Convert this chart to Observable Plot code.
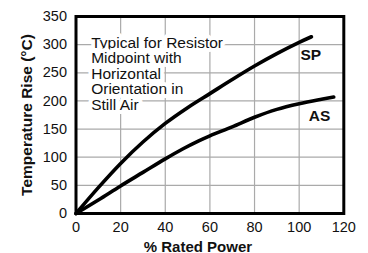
<!DOCTYPE html>
<html>
<head>
<meta charset="utf-8">
<script src="https://cdn.jsdelivr.net/npm/d3@7"></script>
<script src="https://cdn.jsdelivr.net/npm/@observablehq/plot@0.6"></script>
<style>
  html, body { margin: 0; padding: 0; background: #fff; }
  #chart svg { display: block; }
</style>
</head>
<body>
<div id="chart"></div>
<script>
// Data
const spPower = [0, 10, 20, 30, 40, 50, 60, 70, 80, 90, 100, 105.5];
const spRise  = [0, 46, 89, 127, 160, 188, 213, 238, 262, 284, 304, 314];
const asPower = [0, 10, 20, 30, 40, 48, 55, 60, 70, 80, 90, 100, 110, 115.5];
const asRise  = [0, 24, 49, 73, 97, 115, 129, 138, 154, 171, 185, 195, 203, 207];
const seriesNames = ["SP", "AS"];
const xTicks = [0, 20, 40, 60, 80, 100, 120];
const yTicks = [0, 50, 100, 150, 200, 250, 300, 350];
const xLabel = "% Rated Power";
const yLabel = "Temperature Rise (°C)";
const note = "Typical for Resistor\nMidpoint with\nHorizontal\nOrientation in\nStill Air";

const sp = spPower.map((p, i) => ({series: seriesNames[0], power: p, rise: spRise[i]}));
const as = asPower.map((p, i) => ({series: seriesNames[1], power: p, rise: asRise[i]}));
const spEnd = [sp[sp.length - 1]];
const asEnd = [as[as.length - 1]];

const font = "'Liberation Sans', Arial, Helvetica, sans-serif";

const chart = Plot.plot({
  width: 368,
  height: 253,
  marginLeft: 75.5,
  marginRight: 24.7,
  marginTop: 16,
  marginBottom: 40,
  style: {fontFamily: font, fontSize: "14.5px", color: "#111", background: "#fff"},
  x: {domain: [0, 120], ticks: xTicks, tickSize: 0, tickPadding: 8, label: null, tickFormat: d => String(d)},
  y: {domain: [0, 350], ticks: yTicks, tickSize: 0, tickPadding: 9, label: null, tickFormat: d => String(d)},
  marks: [
    Plot.ruleX(xTicks, {stroke: "#aaa", strokeWidth: 1.2}),
    Plot.ruleY(yTicks, {stroke: "#aaa", strokeWidth: 1.2}),
    Plot.text([note], {
      frameAnchor: "top-left", dx: 15.2, dy: 20, lineAnchor: "top", textAnchor: "start",
      lineHeight: 1.0, fontSize: 15.5, fill: "#111", stroke: "white", strokeWidth: 8, paintOrder: "stroke"
    }),
    Plot.line(sp, {x: "power", y: "rise", stroke: "black", strokeWidth: 3.6, curve: "catmull-rom", strokeLinecap: "round"}),
    Plot.line(as, {x: "power", y: "rise", stroke: "black", strokeWidth: 3.6, curve: "catmull-rom", strokeLinecap: "round"}),
    Plot.text(spEnd, {x: "power", y: "rise", text: "series", dx: -11, dy: 23, textAnchor: "start", lineAnchor: "bottom", fontSize: 15.5, fontWeight: "bold", fill: "#111"}),
    Plot.text(asEnd, {x: "power", y: "rise", text: "series", dx: -25, dy: 24, textAnchor: "start", lineAnchor: "bottom", fontSize: 15.5, fontWeight: "bold", fill: "#111"}),
    Plot.frame({stroke: "black", strokeWidth: 3}),
    Plot.text([xLabel], {frameAnchor: "bottom", dx: -12, dy: 38, lineAnchor: "bottom", textAnchor: "middle", fontSize: 15, fontWeight: "bold", fill: "#111"}),
    Plot.text([yLabel], {frameAnchor: "left", dx: -49.3, rotate: -90, lineAnchor: "middle", textAnchor: "middle", fontSize: 15.5, fontWeight: "bold", fill: "#111"})
  ]
});
document.getElementById("chart").appendChild(chart);
</script>
</body>
</html>
